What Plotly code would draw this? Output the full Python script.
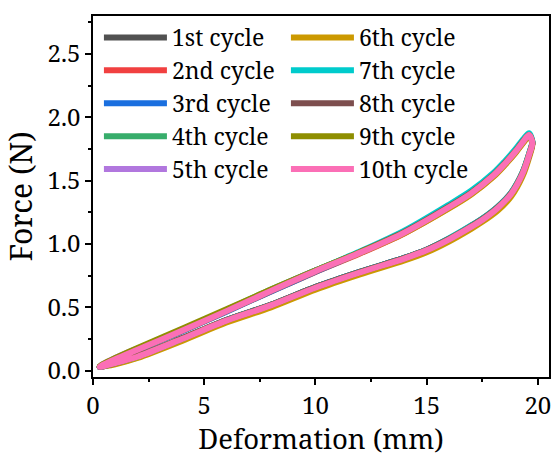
import plotly.graph_objects as go

# Deformation (mm) sample points for the loading and unloading branches
deform_load = [0.3, 1, 2, 4, 6, 8, 10, 12, 14, 16, 17, 18, 18.5, 19, 19.35, 19.6]
deform_unload = [19.75, 19.6, 19.3, 18.8, 18.2, 17.5, 17, 16, 15, 14, 12, 10, 8, 6, 4, 2, 1, 0.3]

# Force (N) per cycle
c1_load = [0.03, 0.09, 0.17, 0.32, 0.475, 0.635, 0.79, 0.935, 1.095, 1.295, 1.405, 1.545, 1.635, 1.735, 1.815, 1.865]
c1_unload = [1.81, 1.71, 1.56, 1.405, 1.295, 1.20, 1.145, 1.04, 0.955, 0.89, 0.78, 0.66, 0.52, 0.40, 0.255, 0.115, 0.065, 0.03]
c2_load = [0.03, 0.09, 0.165, 0.315, 0.47, 0.625, 0.78, 0.925, 1.085, 1.285, 1.395, 1.535, 1.625, 1.725, 1.805, 1.855]
c2_unload = [1.80, 1.70, 1.55, 1.395, 1.285, 1.19, 1.135, 1.035, 0.95, 0.885, 0.775, 0.66, 0.52, 0.40, 0.25, 0.11, 0.06, 0.03]
c3_load = [0.03, 0.085, 0.16, 0.31, 0.465, 0.625, 0.78, 0.93, 1.09, 1.29, 1.40, 1.54, 1.63, 1.73, 1.81, 1.86]
c3_unload = [1.80, 1.70, 1.555, 1.40, 1.29, 1.195, 1.14, 1.04, 0.955, 0.89, 0.78, 0.66, 0.52, 0.40, 0.25, 0.11, 0.06, 0.03]
c4_load = [0.03, 0.095, 0.17, 0.32, 0.48, 0.64, 0.79, 0.935, 1.09, 1.29, 1.40, 1.54, 1.63, 1.73, 1.81, 1.86]
c4_unload = [1.80, 1.695, 1.545, 1.39, 1.28, 1.185, 1.13, 1.03, 0.945, 0.88, 0.77, 0.65, 0.51, 0.39, 0.245, 0.105, 0.055, 0.03]
c5_load = [0.035, 0.10, 0.175, 0.32, 0.475, 0.635, 0.79, 0.935, 1.09, 1.29, 1.40, 1.54, 1.63, 1.73, 1.81, 1.86]
c5_unload = [1.80, 1.70, 1.55, 1.395, 1.285, 1.19, 1.135, 1.035, 0.95, 0.885, 0.775, 0.655, 0.515, 0.395, 0.25, 0.11, 0.06, 0.035]
c6_load = [0.03, 0.09, 0.165, 0.315, 0.47, 0.63, 0.785, 0.93, 1.085, 1.28, 1.39, 1.53, 1.62, 1.72, 1.80, 1.85]
c6_unload = [1.79, 1.68, 1.53, 1.375, 1.265, 1.175, 1.12, 1.02, 0.935, 0.87, 0.76, 0.64, 0.50, 0.38, 0.235, 0.10, 0.05, 0.03]
c7_load = [0.03, 0.09, 0.165, 0.315, 0.475, 0.635, 0.79, 0.94, 1.105, 1.31, 1.42, 1.56, 1.65, 1.75, 1.83, 1.875]
c7_unload = [1.81, 1.71, 1.56, 1.405, 1.295, 1.20, 1.145, 1.045, 0.955, 0.89, 0.78, 0.66, 0.52, 0.40, 0.25, 0.11, 0.06, 0.03]
c8_load = [0.03, 0.09, 0.165, 0.315, 0.47, 0.63, 0.785, 0.935, 1.095, 1.295, 1.405, 1.545, 1.635, 1.735, 1.815, 1.86]
c8_unload = [1.80, 1.70, 1.555, 1.40, 1.29, 1.195, 1.14, 1.04, 0.955, 0.89, 0.78, 0.66, 0.52, 0.40, 0.255, 0.115, 0.06, 0.03]
c9_load = [0.035, 0.10, 0.18, 0.33, 0.485, 0.64, 0.79, 0.935, 1.09, 1.29, 1.40, 1.54, 1.63, 1.73, 1.81, 1.86]
c9_unload = [1.80, 1.70, 1.55, 1.395, 1.285, 1.19, 1.135, 1.035, 0.95, 0.885, 0.775, 0.655, 0.515, 0.395, 0.25, 0.11, 0.06, 0.035]
c10_load = [0.03, 0.09, 0.165, 0.315, 0.47, 0.63, 0.785, 0.93, 1.09, 1.29, 1.40, 1.54, 1.63, 1.73, 1.81, 1.86]
c10_unload = [1.80, 1.70, 1.55, 1.395, 1.285, 1.19, 1.135, 1.035, 0.95, 0.885, 0.775, 0.655, 0.515, 0.395, 0.25, 0.11, 0.06, 0.03]

cycle_names = ["1st cycle", "2nd cycle", "3rd cycle", "4th cycle", "5th cycle",
               "6th cycle", "7th cycle", "8th cycle", "9th cycle", "10th cycle"]
cycle_colors = ["#515151", "#F14040", "#1A6FDF", "#37AD6B", "#B177DE",
                "#CC9900", "#00CBCC", "#7D4E4E", "#8E8E00", "#FB6FB6"]
legend_ranks = [1, 3, 5, 7, 9, 2, 4, 6, 8, 10]

loads = [c1_load, c2_load, c3_load, c4_load, c5_load, c6_load, c7_load, c8_load, c9_load, c10_load]
unloads = [c1_unload, c2_unload, c3_unload, c4_unload, c5_unload, c6_unload, c7_unload, c8_unload, c9_unload, c10_unload]

FONT = "Noto Serif, Noto Serif CJK SC, DejaVu Serif, Liberation Serif, serif"

fig = go.Figure()
for name, color, rank, ld, ul in zip(cycle_names, cycle_colors, legend_ranks, loads, unloads):
    fig.add_trace(go.Scatter(
        x=deform_load + deform_unload,
        y=ld + ul,
        mode="lines",
        name=name,
        legendrank=rank,
        line=dict(color=color, width=6, shape="spline", smoothing=0.8),
    ))

axis_common = dict(
    showline=True, linecolor="black", linewidth=1.5, mirror=True,
    ticks="outside", ticklen=6, tickwidth=1.5, tickcolor="black",
    showgrid=False, zeroline=False,
    tickfont=dict(family=FONT, size=24, color="black"),
)

fig.update_xaxes(
    range=[0, 20.5], tickvals=[0, 5, 10, 15, 20],
    minor=dict(ticks="outside", ticklen=3, tickwidth=1.5, tickcolor="black", dtick=2.5, tick0=0),
    title=dict(text="Deformation (mm)", font=dict(family=FONT, size=27.5, color="black"), standoff=13),
    **axis_common,
)
fig.update_yaxes(
    range=[-0.05, 2.8], tickvals=[0, 0.5, 1.0, 1.5, 2.0, 2.5], tickformat=".1f",
    minor=dict(ticks="outside", ticklen=3, tickwidth=1.5, tickcolor="black", dtick=0.25, tick0=0),
    title=dict(text="Force (N)", font=dict(family=FONT, size=30, color="black"), standoff=10),
    **axis_common,
)

fig.update_layout(
    width=555, height=457,
    margin=dict(l=93, r=4, t=16, b=72),
    paper_bgcolor="white", plot_bgcolor="white",
    font=dict(family=FONT, color="black"),
    showlegend=True,
    legend=dict(
        orientation="h",
        x=0.013, xanchor="left",
        y=1.0, yanchor="top",
        font=dict(family=FONT, size=23, color="black"),
        itemwidth=63,
        entrywidth=109, entrywidthmode="pixels",
        bgcolor="rgba(0,0,0,0)", borderwidth=0,
        tracegroupgap=0,
    ),
)

fig.write_html("out.html", config={"displayModeBar": False},
               post_script="document.body.style.margin='0';")
